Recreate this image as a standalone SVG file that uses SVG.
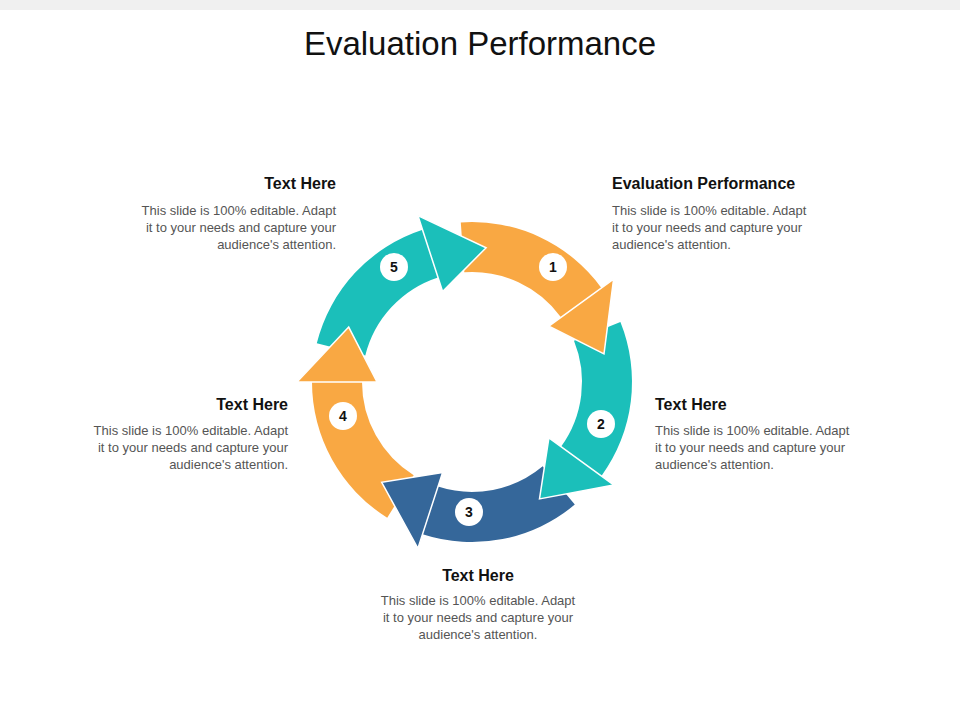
<svg xmlns="http://www.w3.org/2000/svg" width="960" height="720" viewBox="0 0 960 720">
<style>
.t{font-family:"Liberation Sans",Arial,sans-serif}
.h{font-family:"Liberation Sans",Arial,sans-serif;font-weight:bold;font-size:16px;fill:#111}
.b{font-family:"Liberation Sans",Arial,sans-serif;font-size:13px;fill:#555}
.o{fill:#F9A843}.g{fill:#1BBFBA}.bl{fill:#35679A}
.hd{stroke:#fff;stroke-width:1.5;stroke-linejoin:miter}
.bd circle{fill:#fff}
.n{font-family:"Liberation Sans",Arial,sans-serif;font-weight:bold;font-size:14px;fill:#111;text-anchor:middle}
</style>
<rect width="960" height="720" fill="#fff"/>
<rect width="960" height="10" fill="#f0f0f0"/>
<text class="t" x="480" y="55" font-size="33" text-anchor="middle" fill="#111">Evaluation  Performance</text>
<g id="connectors">
<path class="o" d="M460.8,222.4 A160,160 0 0 1 601.4,287.9 L561,317.3 A110,110 0 0 0 464.3,272.3 Z"/>
<path class="g" d="M620.4,322.1 A160,160 0 0 1 601.4,476 L561,446.7 A110,110 0 0 0 574,340.8 Z"/>
<path class="bl" d="M574.8,504.6 A160,160 0 0 1 422.6,534.2 L438,486.6 A110,110 0 0 0 542.7,466.3 Z"/>
<path class="o" d="M387.2,517.7 A160,160 0 0 1 312,382 L362,382 A110,110 0 0 0 413.7,475.3 Z"/>
<path class="g" d="M316.8,343.3 A160,160 0 0 1 422.6,229.8 L438,277.4 A110,110 0 0 0 365.3,355.4 Z"/>
<polygon class="o hd" points="613.6,279.1 604,353.9 548.9,326.2"/>
<polygon class="g hd" points="613.6,484.9 539.5,498.9 548.9,437.8"/>
<polygon class="bl hd" points="417.9,548.4 381.7,482.3 442.6,472.4"/>
<polygon class="o hd" points="297,382 348.7,327.1 377,382"/>
<polygon class="g hd" points="417.9,215.6 486.1,247.7 442.6,291.6"/>
</g>
<g id="badge1" class="bd"><circle cx="553" cy="267" r="14"/><text class="n" x="553" y="272">1</text></g>
<g id="badge2" class="bd"><circle cx="601" cy="424" r="14"/><text class="n" x="601" y="429">2</text></g>
<g id="badge3" class="bd"><circle cx="469" cy="512" r="14"/><text class="n" x="469" y="517">3</text></g>
<g id="badge4" class="bd"><circle cx="343" cy="416" r="14"/><text class="n" x="343" y="421">4</text></g>
<g id="badge5" class="bd"><circle cx="394" cy="267" r="14"/><text class="n" x="394" y="272">5</text></g>
<g id="text1"><text class="h" x="612" y="189">Evaluation Performance</text>
<text class="b" x="612" y="215">This slide is 100% editable. Adapt</text><text class="b" x="612" y="232">it to your needs and capture your</text><text class="b" x="612" y="249">audience's attention.</text></g>
<g id="text2"><text class="h" x="655" y="410">Text Here</text>
<text class="b" x="655" y="435">This slide is 100% editable. Adapt</text><text class="b" x="655" y="452">it to your needs and capture your</text><text class="b" x="655" y="469">audience's attention.</text></g>
<g id="text3" text-anchor="middle"><text class="h" x="478" y="581">Text Here</text>
<text class="b" x="478" y="605">This slide is 100% editable. Adapt</text><text class="b" x="478" y="622">it to your needs and capture your</text><text class="b" x="478" y="639">audience's attention.</text></g>
<g id="text4" text-anchor="end"><text class="h" x="288" y="410">Text Here</text>
<text class="b" x="288" y="435">This slide is 100% editable. Adapt</text><text class="b" x="288" y="452">it to your needs and capture your</text><text class="b" x="288" y="469">audience's attention.</text></g>
<g id="text5" text-anchor="end"><text class="h" x="336" y="189">Text Here</text>
<text class="b" x="336" y="215">This slide is 100% editable. Adapt</text><text class="b" x="336" y="232">it to your needs and capture your</text><text class="b" x="336" y="249">audience's attention.</text></g>
</svg>
